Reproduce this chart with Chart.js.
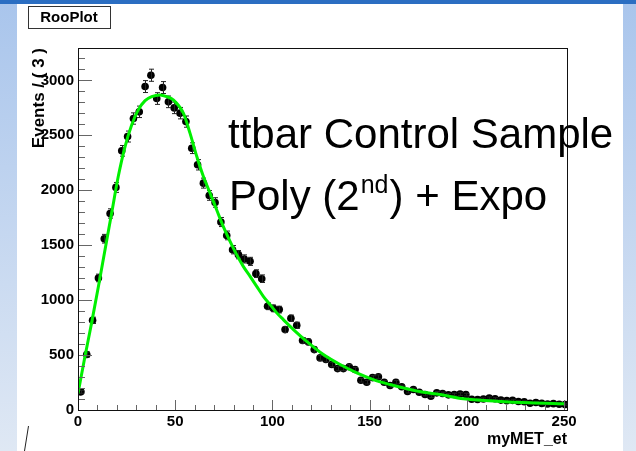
<!DOCTYPE html>
<html>
<head>
<meta charset="utf-8">
<script src="https://cdn.jsdelivr.net/npm/chart.js@4.4.1/dist/chart.umd.min.js"></script>
<style>
  html, body { margin: 0; padding: 0; background: #fff; }
  #metChart { display: block; }
</style>
</head>
<body>
<canvas id="metChart" width="636" height="451"></canvas>
<script>
// myMET_et histogram, 3 GeV bins (bin centres / entries)
const binCenters = [1.5, 4.5, 7.5, 10.5, 13.5, 16.5, 19.5, 22.5, 25.5, 28.5,
  31.5, 34.5, 37.5, 40.5, 43.5, 46.5, 49.5, 52.5, 55.5, 58.5,
  61.5, 64.5, 67.5, 70.5, 73.5, 76.5, 79.5, 82.5, 85.5, 88.5,
  91.5, 94.5, 97.5, 100.5, 103.5, 106.5, 109.5, 112.5, 115.5, 118.5,
  121.5, 124.5, 127.5, 130.5, 133.5, 136.5, 139.5, 142.5, 145.5, 148.5,
  151.5, 154.5, 157.5, 160.5, 163.5, 166.5, 169.5, 172.5, 175.5, 178.5,
  181.5, 184.5, 187.5, 190.5, 193.5, 196.5, 199.5, 202.5, 205.5, 208.5,
  211.5, 214.5, 217.5, 220.5, 223.5, 226.5, 229.5, 232.5, 235.5, 238.5,
  241.5, 244.5, 247.5, 250.5]
const binCounts = [165, 505, 816, 1202, 1559, 1789, 2026, 2359, 2489, 2653,
  2714, 2944, 3047, 2835, 2935, 2805, 2750, 2702, 2625, 2383,
  2232, 2065, 1953, 1889, 1711, 1589, 1459, 1414, 1375, 1353,
  1241, 1195, 944, 925, 914, 732, 835, 771, 632, 620,
  550, 474, 459, 414, 377, 377, 393, 368, 271, 253,
  295, 302, 253, 223, 253, 211, 168, 186, 162, 141,
  125, 156, 150, 138, 141, 145, 140, 98, 95, 100,
  108, 102, 90, 85, 88, 78, 75, 62, 68, 60,
  55, 58, 52, 50]
// poisson errors on the bin contents
const binErrors = binCounts.map(n => Math.sqrt(n))

// fitted shape, Poly (2nd) + Expo
const fitX = [0, 3.6, 7, 10.5, 13.9, 17.3, 20.7, 24.2, 27.6, 31, 34.5, 37.9, 42.2, 45.6, 49,
  54.2, 57.6, 61.1, 64.5, 67.9, 71.3, 74.7, 78.2, 81.6, 85, 88.5, 91.9, 95.3, 98.8,
  102.2, 105.6, 110.8, 117.6, 126.2, 134.8, 143.4, 151.9, 160.5, 169.1, 177.7, 186.2,
  198.2, 215.4, 232.5, 250]
const fitY = [150, 489, 793, 1125, 1459, 1792, 2125, 2398, 2595, 2732, 2816, 2853, 2868, 2853, 2823,
  2702, 2520, 2307, 2125, 1975, 1823, 1671, 1535, 1414, 1307, 1216, 1125, 1035, 959,
  884, 823, 732, 625, 505, 414, 338, 277, 232, 193, 162, 141,
  102, 80, 65, 56]

const xRange = [0, 251.5]
const yRange = [0, 3295]
const xTickLabels = [0, 50, 100, 150, 200, 250]
const yTickLabels = [0, 500, 1000, 1500, 2000, 2500, 3000]
const xMinorStep = 10
const yMinorStep = 100

const FONT = '"Liberation Sans", Arial, Helvetica, sans-serif'

// canvas decoration, frame, inward ticks, error bars and the labels
const rootStyle = {
  id: 'rootStyle',
  beforeDraw(chart) {
    const c = chart.ctx
    const W = chart.width, H = chart.height
    c.save()
    c.fillStyle = '#ffffff'
    c.fillRect(0, 0, W, H)
    let g = c.createLinearGradient(0, 0, 0, H)
    g.addColorStop(0, '#a9c5ec')
    g.addColorStop(1, '#dfe8f4')
    c.fillStyle = g
    c.fillRect(0, 0, 17, H)
    c.fillRect(623, 0, W - 623, H)
    c.fillStyle = '#2b6ec2'
    c.fillRect(0, 0, W, 4)
    c.restore()
  },
  afterDatasetDraw(chart, args) {
    if (args.index !== 1) return
    const c = chart.ctx
    const xs = chart.scales.x, ys = chart.scales.y
    const area = chart.chartArea
    c.save()
    c.beginPath()
    c.rect(area.left, area.top, area.right - area.left, area.bottom - area.top)
    c.clip()
    c.strokeStyle = '#222'
    c.lineWidth = 1
    c.beginPath()
    for (let i = 0; i < binCenters.length; i++) {
      const px = Math.round(xs.getPixelForValue(binCenters[i])) + 0.5
      const y1 = ys.getPixelForValue(binCounts[i] + binErrors[i])
      const y2 = ys.getPixelForValue(binCounts[i] - binErrors[i])
      c.moveTo(px, y1); c.lineTo(px, y2)
      c.moveTo(px - 2.5, y1); c.lineTo(px + 2.5, y1)
      c.moveTo(px - 2.5, y2); c.lineTo(px + 2.5, y2)
    }
    c.stroke()
    c.restore()
  },
  afterDraw(chart) {
    const c = chart.ctx
    const xs = chart.scales.x, ys = chart.scales.y
    const a = chart.chartArea
    c.save()
    // ticks pointing into the frame
    c.strokeStyle = '#666'
    c.lineWidth = 1
    c.beginPath()
    for (let v = xRange[0]; v <= 250; v += xMinorStep) {
      const px = Math.round(xs.getPixelForValue(v)) + 0.5
      const len = xTickLabels.includes(v) ? 10 : 5
      c.moveTo(px, a.bottom); c.lineTo(px, a.bottom - len)
    }
    for (let v = yRange[0]; v <= 3200; v += yMinorStep) {
      const py = Math.round(ys.getPixelForValue(v)) + 0.5
      const len = yTickLabels.includes(v) ? 14 : 7
      c.moveTo(a.left, py); c.lineTo(a.left + len, py)
    }
    c.stroke()
    // frame
    c.strokeStyle = '#111'
    c.strokeRect(Math.round(a.left) + 0.5, Math.round(a.top) + 0.5,
      Math.round(a.right - a.left), Math.round(a.bottom - a.top))

    // plot title box
    c.fillStyle = '#fff'
    c.fillRect(28, 6, 82, 22)
    c.strokeStyle = '#333'
    c.strokeRect(28.5, 6.5, 82, 22)
    c.fillStyle = '#000'
    c.font = 'bold 15px ' + FONT
    c.textAlign = 'center'
    c.textBaseline = 'middle'
    c.fillText('RooPlot', 69, 18)

    // fit annotation
    c.textAlign = 'left'
    c.textBaseline = 'alphabetic'
    c.font = '42px ' + FONT
    c.fillText('ttbar Control Sample', 228, 148)
    let tx = 229
    const part1 = 'Poly (2'
    c.fillText(part1, tx, 210)
    tx += c.measureText(part1).width
    c.font = '25px ' + FONT
    c.fillText('nd', tx + 1, 193)
    tx += c.measureText('nd').width + 2
    c.font = '42px ' + FONT
    c.fillText(') + Expo', tx, 210)

    // stray pen stroke in the lower left corner
    c.strokeStyle = '#222'
    c.beginPath()
    c.moveTo(28.5, 426); c.lineTo(24.5, 451)
    c.stroke()
    c.restore()
  }
}

const ctx = document.getElementById('metChart').getContext('2d')
const metChart = new Chart(ctx, {
  data: {
    datasets: [{
      type: 'line',
      label: 'fit',
      data: fitX.map((x, i) => ({ x: x, y: fitY[i] })),
      borderColor: '#00f000',
      borderWidth: 3,
      pointRadius: 0,
      cubicInterpolationMode: 'monotone',
      fill: false,
      order: 0
    }, {
      type: 'scatter',
      label: 'data',
      data: binCenters.map((x, i) => ({ x: x, y: binCounts[i] })),
      backgroundColor: '#000',
      borderColor: '#000',
      pointRadius: 3.8,
      pointBorderWidth: 0,
      order: 1
    }]
  },
  options: {
    responsive: false,
    animation: false,
    events: [],
    layout: { padding: { top: 48, right: 69, bottom: 0, left: 0 } },
    plugins: { legend: { display: false }, tooltip: { enabled: false } },
    scales: {
      x: {
        type: 'linear',
        min: xRange[0],
        max: xRange[1],
        grid: { display: false, drawTicks: false },
        border: { display: false },
        afterFit: s => { s.height = 41 },
        afterBuildTicks: s => { s.ticks = xTickLabels.map(v => ({ value: v })) },
        ticks: {
          maxRotation: 0,
          autoSkip: false,
          padding: 3,
          color: '#000',
          callback: v => String(v),
          font: { family: FONT, size: 15, weight: 'bold' }
        },
        title: {
          display: true,
          text: 'myMET_et',
          align: 'end',
          color: '#000',
          padding: { top: 0, bottom: 2 },
          font: { family: FONT, size: 16, weight: 'bold' }
        }
      },
      y: {
        type: 'linear',
        min: yRange[0],
        max: yRange[1],
        grid: { display: false, drawTicks: false },
        border: { display: false },
        afterFit: s => { s.width = 78 },
        afterBuildTicks: s => { s.ticks = yTickLabels.map(v => ({ value: v })) },
        ticks: {
          autoSkip: false,
          padding: 4,
          color: '#000',
          callback: v => String(v),
          font: { family: FONT, size: 15, weight: 'bold' }
        },
        title: {
          display: true,
          text: 'Events / ( 3 )',
          align: 'end',
          color: '#000',
          padding: { top: 29, bottom: 0 },
          font: { family: FONT, size: 17, weight: 'bold' }
        }
      }
    }
  },
  plugins: [rootStyle]
})
</script>
</body>
</html>
